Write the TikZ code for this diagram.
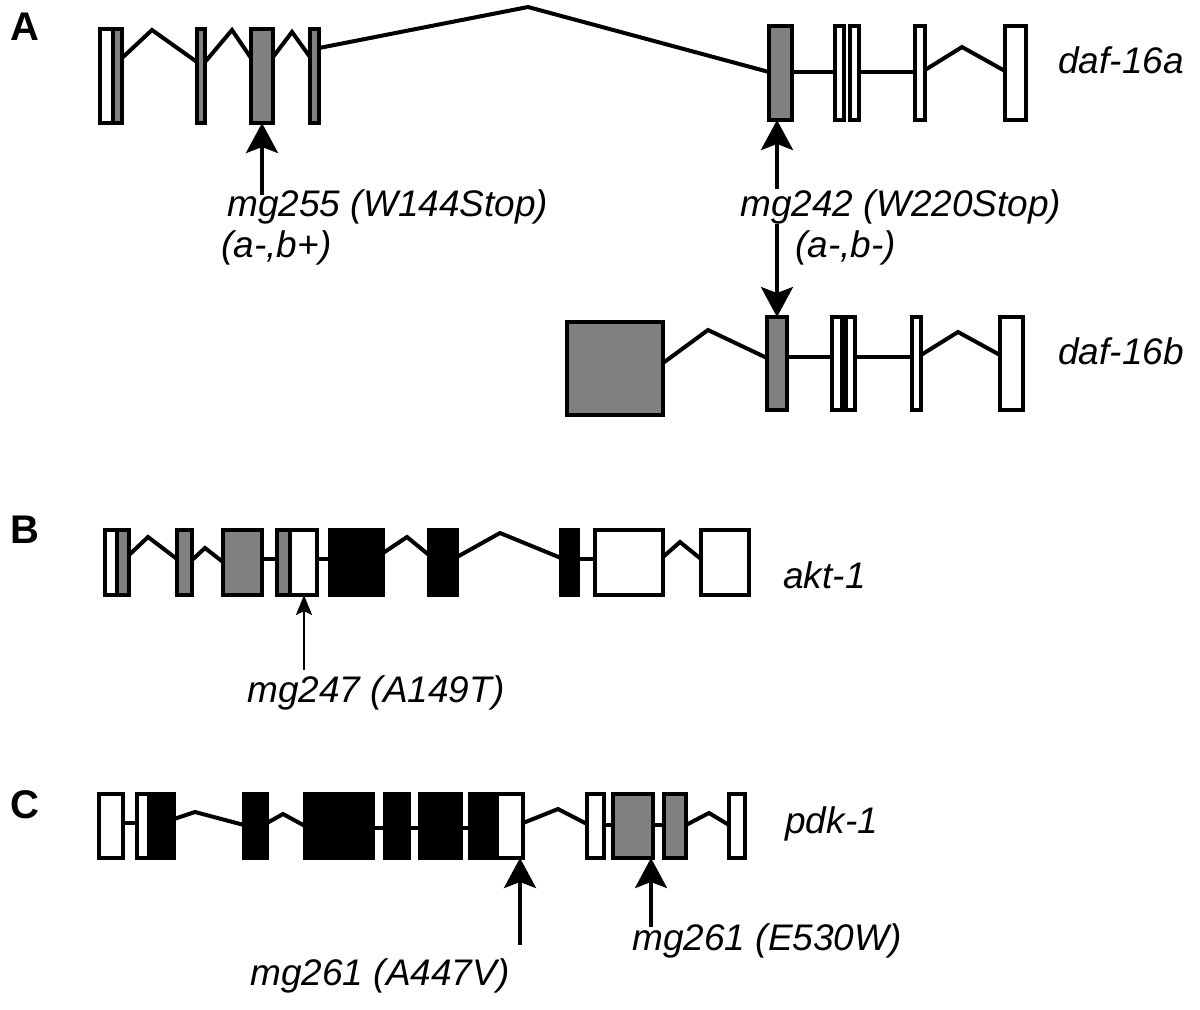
\documentclass[tikz,border=0pt]{standalone}
\usepackage{fontspec}
\setmainfont{Liberation Sans}
\usetikzlibrary{arrows.meta}
\definecolor{exgray}{RGB}{128,128,128}
\tikzset{
 exon/.style={draw=black, line width=2pt, inner sep=0pt, outer sep=0pt, rectangle},
 intron/.style={line width=2pt, line join=miter},
 lab/.style={font=\fontsize{18.5}{22}\selectfont\itshape, inner sep=0pt, anchor=base west},
 panel/.style={font=\fontsize{20}{24}\selectfont\bfseries, inner sep=0pt, anchor=base west},
 bigarrow/.style={line width=1.8pt, -{Stealth[length=15pt,width=16pt,inset=3pt]}},
 dblarrow/.style={line width=1.8pt, {Stealth[length=15pt,width=16pt,inset=3pt]}-{Stealth[length=15pt,width=16pt,inset=3pt]}},
 smallarrow/.style={line width=1.2pt, -{Stealth[length=10pt,width=8pt,inset=2pt]}},
}
\newcommand\exonbox[6]{\node[exon,fill=#6,minimum width={(#3-#2)*0.5pt},minimum height={(#5-#4)*0.5pt}] (#1) at ({(#2+#3)/2},{(#4+#5)/2}) {};}
\begin{document}
\begin{tikzpicture}[x=0.5pt,y=-0.5pt]
\useasboundingbox (0,0) rectangle (1200,1009);
% ---------- Panel A : daf-16a ----------
\exonbox{a1w}{100}{113}{29}{123}{white}
\exonbox{a1g}{113}{122}{29}{123}{exgray}
\exonbox{a2}{197}{205}{29}{123}{exgray}
\exonbox{a3}{251}{273}{29}{123}{exgray}
\exonbox{a4}{310}{319}{29}{123}{exgray}
\exonbox{a5}{769}{792}{26}{120}{exgray}
\exonbox{a6a}{835}{844}{26}{120}{white}
\exonbox{a6b}{849.5}{859}{26}{120}{white}
\exonbox{a7}{915}{925}{26}{120}{white}
\exonbox{a8}{1005}{1026}{26}{120}{white}
\draw[intron] (a1g.east |- 0,58) -- (152,30) -- (a2.west |- 0,62);
\draw[intron] (a2.east |- 0,62) -- (232,30) -- (a3.west |- 0,58);
\draw[intron] (a3.east |- 0,57) -- (292,32) -- (a4.west |- 0,57);
\draw[intron] (a4.east |- 0,48) -- (528,7) -- (a5.west |- 0,72);
\draw[intron] (a5.east |- 0,72) -- (a6a.west |- 0,72);
\draw[intron] (a6b.east |- 0,72) -- (a7.west |- 0,72);
\draw[intron] (a7.east |- 0,70) -- (962,47) -- (a8.west |- 0,71);
\node[lab] (la) at (1058,73) {daf-16a};
% ---------- Panel A : daf-16b ----------
\exonbox{b1}{567}{663}{322}{415}{exgray}
\exonbox{b2}{767}{787}{317}{410}{exgray}
\exonbox{b3a}{832}{841.5}{317}{410}{white}
\exonbox{b3b}{846}{855}{317}{410}{white}
\exonbox{b4}{912}{921}{317}{410}{white}
\exonbox{b5}{1000}{1023}{317}{410}{white}
\draw[intron] (b1.east |- 0,363) -- (708,330) -- (b2.west |- 0,358);
\draw[intron] (b2.east |- 0,357) -- (b3a.west |- 0,357);
\draw[intron] (b3b.east |- 0,357) -- (b4.west |- 0,357);
\draw[intron] (b4.east |- 0,355) -- (958,332) -- (b5.west |- 0,355);
\node[lab] (lb) at (1058,364) {daf-16b};
% mutations panel A
\coordinate (m1) at (262,195);
\draw[bigarrow] (m1) -- (m1 |- a3.south);
\node[lab] (t1) at (227,216) {mg255 (W144Stop)};
\node[lab] (t1b) at (221,257) {(a-,b+)};
\draw[dblarrow] (b2.north) -- (b2.north |- a5.south);
\node[lab,fill=white] (t2) at (740,216) {mg242 (W220Stop)};
\node[lab] (t2b) at (795,257) {(a-,b-)};
\node[panel] (pA) at (10,40) {A};
% ---------- Panel B : akt-1 ----------
\exonbox{c1w}{105}{117}{530}{595}{white}
\exonbox{c1g}{117}{129}{530}{595}{exgray}
\exonbox{c2}{177}{192}{530}{595}{exgray}
\exonbox{c3}{223}{262}{530}{595}{exgray}
\exonbox{c4g}{277}{289.5}{530}{595}{exgray}
\exonbox{c4w}{289.5}{317}{530}{595}{white}
\exonbox{c5}{330}{383}{530}{595}{black}
\exonbox{c6}{429}{457}{530}{595}{black}
\exonbox{c7}{561}{578}{530}{595}{black}
\exonbox{c8}{595}{663}{530}{595}{white}
\exonbox{c9}{701}{749}{530}{595}{white}
\draw[intron] (c1g.east |- 0,555) -- (148,537) -- (c2.west |- 0,559);
\draw[intron] (c2.east |- 0,560) -- (205,548) -- (c3.west |- 0,562);
\draw[intron] (c3.east |- 0,559) -- (c4g.west |- 0,559);
\draw[intron] (c4w.east |- 0,559) -- (c5.west |- 0,559);
\draw[intron] (c5.east |- 0,553) -- (407,537) -- (c6.west |- 0,555);
\draw[intron] (c6.east |- 0,557) -- (500,533) -- (c7.west |- 0,558);
\draw[intron] (c7.east |- 0,559) -- (c8.west |- 0,559);
\draw[intron] (c8.east |- 0,557) -- (680,542) -- (c9.west |- 0,559);
\node[lab] (lc) at (783,588) {akt-1};
\coordinate (m3) at (304,670);
\draw[smallarrow] (m3) -- (m3 |- c4w.south);
\node[lab] (t3) at (247,702) {mg247 (A149T)};
\node[panel] (pB) at (10,543) {B};
% ---------- Panel C : pdk-1 ----------
\exonbox{d1}{99}{123}{794}{858}{white}
\exonbox{d2w}{137}{149}{794}{858}{white}
\exonbox{d2k}{149}{174}{794}{858}{black}
\exonbox{d3}{244}{267}{794}{858}{black}
\exonbox{d4}{305}{373}{794}{858}{black}
\exonbox{d5}{385}{409}{794}{858}{black}
\exonbox{d6}{420}{461}{794}{858}{black}
\exonbox{d7k}{470}{497}{794}{858}{black}
\exonbox{d7w}{497}{523}{794}{858}{white}
\exonbox{d8}{587}{604}{794}{858}{white}
\exonbox{d9}{613}{653}{794}{858}{exgray}
\exonbox{d10}{664}{686}{794}{858}{exgray}
\exonbox{d11}{729}{745}{794}{858}{white}
\draw[intron] (d1.east |- 0,823) -- (d2w.west |- 0,823);
\draw[intron] (d2k.east |- 0,819) -- (195,812) -- (d3.west |- 0,825);
\draw[intron] (d3.east |- 0,823) -- (283,814) -- (d4.west |- 0,826);
\draw[intron] (d4.east |- 0,828) -- (d5.west |- 0,828);
\draw[intron] (d5.east |- 0,828) -- (d6.west |- 0,828);
\draw[intron] (d6.east |- 0,828) -- (d7k.west |- 0,828);
\draw[intron] (d7w.east |- 0,823) -- (558,809) -- (d8.west |- 0,824);
\draw[intron] (d8.east |- 0,825) -- (d9.west |- 0,825);
\draw[intron] (d9.east |- 0,825) -- (d10.west |- 0,825);
\draw[intron] (d10.east |- 0,825) -- (709,813) -- (d11.west |- 0,825);
\node[lab] (ld) at (785,833) {pdk-1};
\coordinate (m4) at (520,945);
\draw[bigarrow] (m4) -- (m4 |- d7w.south);
\node[lab] (t4) at (250,985) {mg261 (A447V)};
\coordinate (m5) at (651,927);
\draw[bigarrow] (m5) -- (m5 |- d9.south);
\node[lab] (t5) at (632,950) {mg261 (E530W)};
\node[panel] (pC) at (10,818) {C};
\end{tikzpicture}
\end{document}
